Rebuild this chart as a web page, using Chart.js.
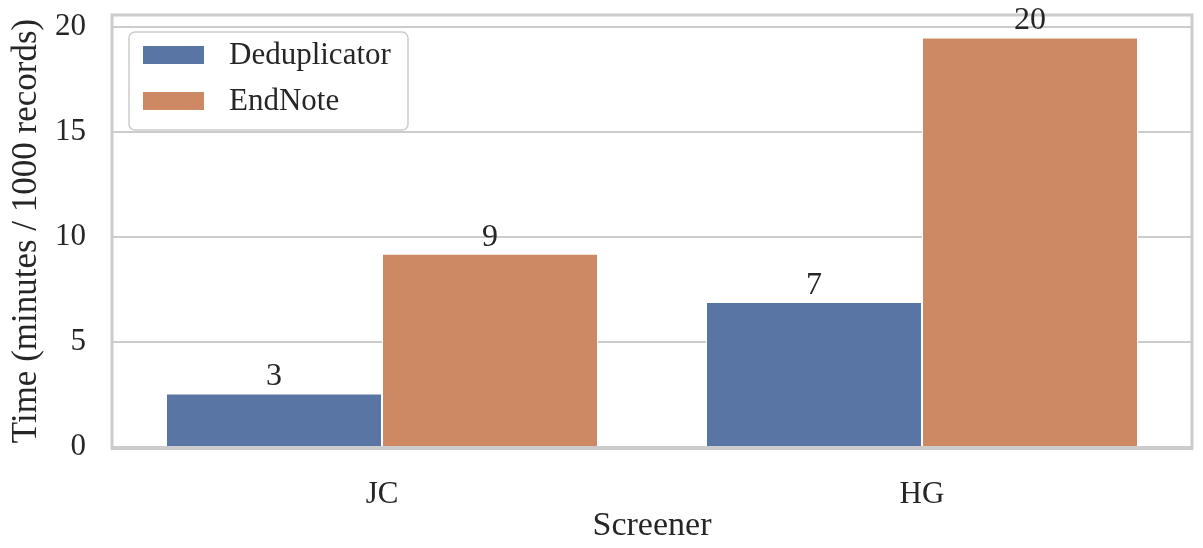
<!DOCTYPE html>
<html>
<head>
<meta charset="utf-8">
<script src="https://cdn.jsdelivr.net/npm/chart.js@4"></script>
<style>
  html, body { margin: 0; padding: 0; background: #fff; }
  #wrap { width: 1203px; height: 548px; }
</style>
</head>
<body>
<div id="wrap"><canvas id="chart" width="1203" height="548"></canvas></div>
<script>
/* Data */
const categories = ['JC', 'HG'];
const seriesNames = ['Deduplicator', 'EndNote'];
const dedupValues = [2.55, 6.9];
const endnoteValues = [9.2, 19.5];
const yTicks = [0, 5, 10, 15, 20];

const blue = '#5975a4';
const orange = '#cc8963';
const textColor = '#262626';
const gridColor = '#cccccc';
const serif = "'Liberation Serif', 'Times New Roman', serif";

/* Frame around plot area, drawn under the bars */
const framePlugin = {
  id: 'frame',
  beforeDatasetsDraw(chart) {
    const a = chart.chartArea, ctx = chart.ctx;
    ctx.save();
    ctx.strokeStyle = gridColor;
    ctx.lineWidth = 3;
    ctx.strokeRect(a.left, a.top, a.right - a.left, a.bottom - a.top + 1.5);
    ctx.restore();
  }
};

/* Rounded value labels above bars */
const valueLabels = {
  id: 'valueLabels',
  afterDatasetsDraw(chart) {
    const ctx = chart.ctx;
    ctx.save();
    ctx.font = '32px ' + serif;
    ctx.fillStyle = textColor;
    ctx.textAlign = 'center';
    ctx.textBaseline = 'alphabetic';
    chart.data.datasets.forEach((ds, i) => {
      chart.getDatasetMeta(i).data.forEach((bar, j) => {
        ctx.fillText(String(Math.round(ds.data[j])), bar.x, bar.y - 8);
      });
    });
    ctx.restore();
  }
};

/* Legend box inside the plot, top left */
const boxLegend = {
  id: 'boxLegend',
  afterDraw(chart) {
    const a = chart.chartArea, ctx = chart.ctx;
    const x = a.left + 17, y = a.top + 17, w = 279, h = 98;
    ctx.save();
    ctx.beginPath();
    ctx.roundRect(x, y, w, h, 6);
    ctx.fillStyle = 'rgba(255,255,255,0.8)';
    ctx.fill();
    ctx.strokeStyle = gridColor;
    ctx.lineWidth = 1.5;
    ctx.stroke();
    ctx.font = '31px ' + serif;
    ctx.textBaseline = 'middle';
    chart.data.datasets.forEach((ds, i) => {
      const cy = y + 23 + i * 46;
      ctx.fillStyle = ds.backgroundColor;
      ctx.fillRect(x + 14, cy - 9, 61, 18);
      ctx.fillStyle = textColor;
      ctx.fillText(ds.label, x + 100, cy + 1);
    });
    ctx.restore();
  }
};

new Chart(document.getElementById('chart'), {
  type: 'bar',
  data: {
    labels: categories,
    datasets: [
      { label: seriesNames[0], data: dedupValues, backgroundColor: blue,
        borderColor: '#ffffff', borderWidth: 1, borderSkipped: 'bottom' },
      { label: seriesNames[1], data: endnoteValues, backgroundColor: orange,
        borderColor: '#ffffff', borderWidth: 1, borderSkipped: 'bottom' }
    ]
  },
  options: {
    responsive: false,
    animation: false,
    devicePixelRatio: 1,
    layout: { padding: { top: 15, right: 11, left: 0, bottom: 0 } },
    datasets: { bar: { categoryPercentage: 0.8, barPercentage: 1.0 } },
    plugins: {
      legend: { display: false },
      tooltip: { enabled: false }
    },
    scales: {
      x: {
        grid: { display: false, drawTicks: false },
        border: { display: false },
        ticks: { color: textColor, font: { family: serif, size: 31 }, padding: 29 },
        title: { display: true, text: 'Screener', color: textColor,
                 font: { family: serif, size: 34 }, padding: { top: 0, bottom: 2 } },
        afterFit(scale) { scale.height = 101; scale.paddingLeft = 0; scale.paddingRight = 0; }
      },
      y: {
        min: 0,
        max: 20.57,
        afterBuildTicks(scale) { scale.ticks = yTicks.map(v => ({ value: v })); },
        grid: { color: gridColor, lineWidth: 2, drawTicks: false },
        border: { display: false },
        ticks: { color: textColor, font: { family: serif, size: 31 }, padding: 26 },
        title: { display: true, text: 'Time (minutes / 1000 records)', color: textColor,
                 font: { family: serif, size: 35 }, padding: { top: 6, bottom: 0 } },
        afterFit(scale) { scale.width = 112; scale.paddingTop = 0; scale.paddingBottom = 0; }
      }
    }
  },
  plugins: [framePlugin, valueLabels, boxLegend]
});
</script>
</body>
</html>
